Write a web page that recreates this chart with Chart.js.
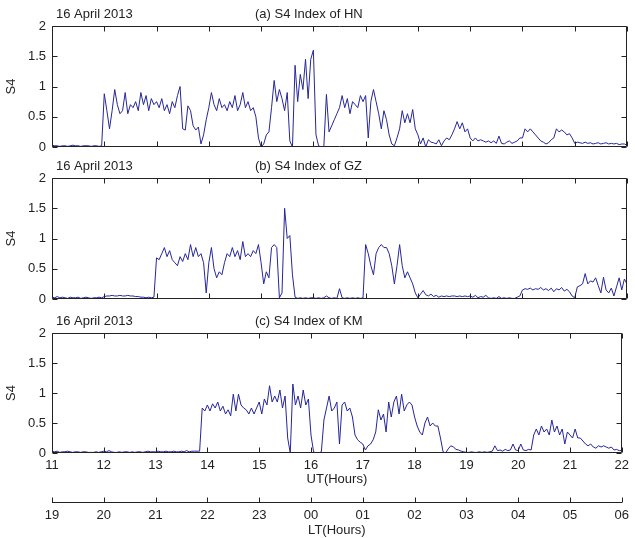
<!DOCTYPE html>
<html>
<head>
<meta charset="utf-8">
<script src="https://cdn.jsdelivr.net/npm/chart.js@4.4.1/dist/chart.umd.min.js"></script>
<style>
  body { margin: 0; background: #fff; }
  #wrap { position: relative; width: 635px; height: 538px; }
  canvas { position: absolute; left: 0; }
</style>
</head>
<body>
<div id="wrap">
  <canvas id="chartHN" width="635" height="155" style="top:0px"></canvas>
  <canvas id="chartGZ" width="635" height="155" style="top:152px"></canvas>
  <canvas id="chartKM" width="635" height="231" style="top:307px"></canvas>
</div>
<script>
// S4 values every 0.05 h (3 min), UT 11:00 to 22:00
const utStart = 11;
const utStep = 0.05;
const utTicks = [11, 12, 13, 14, 15, 16, 17, 18, 19, 20, 21, 22];
const ltLabels = ["19", "20", "21", "22", "23", "00", "01", "02", "03", "04", "05", "06"];
const s4Ticks = [0, 0.5, 1, 1.5, 2];

const hnS4 = [
  0.03,0.02,0.02,0.01,0.02,0.02,0.01,0.02,0.03,0.02,0.02,0.01,0.02,0.02,0.02,0.01,0.02,0.02,0.01,0.02,
  0.88,0.6,0.3,0.6,0.95,0.7,0.55,0.6,0.9,0.55,0.7,0.65,0.75,0.6,0.9,0.7,0.85,0.6,0.8,0.7,
  0.75,0.65,0.8,0.6,0.7,0.55,0.75,0.65,0.85,1.0,0.3,0.28,0.68,0.6,0.35,0.28,0.33,0.05,0.2,0.45,
  0.65,0.9,0.7,0.6,0.8,0.65,0.7,0.6,0.75,0.65,0.85,0.6,0.7,0.9,0.65,0.75,0.6,0.65,0.5,0.15,
  0.0,0.05,0.2,0.25,0.65,1.1,0.75,0.95,0.8,0.6,0.9,0.1,0.0,1.35,0.75,1.2,0.95,1.45,0.8,1.45,
  1.6,0.2,0.02,0.0,0.0,0.87,0.25,0.35,0.45,0.55,0.65,0.85,0.65,0.8,0.55,0.75,0.7,0.65,0.85,0.75,
  0.85,0.15,0.75,0.95,0.75,0.55,0.3,0.6,0.45,0.2,0.05,0.02,0.15,0.3,0.6,0.4,0.55,0.4,0.62,0.3,
  0.2,0.05,0.15,0.0,0.12,0.08,0.07,0.05,0.12,0.02,0.1,0.15,0.12,0.2,0.3,0.42,0.3,0.4,0.25,0.3,
  0.15,0.1,0.15,0.1,0.12,0.1,0.08,0.1,0.07,0.1,0.06,0.18,0.06,0.05,0.08,0.1,0.06,0.08,0.1,0.15,
  0.15,0.3,0.25,0.3,0.25,0.2,0.15,0.1,0.08,0.05,0.07,0.12,0.15,0.3,0.25,0.28,0.25,0.2,0.22,0.15,
  0.06,0.08,0.07,0.06,0.08,0.06,0.07,0.05,0.06,0.07,0.05,0.06,0.07,0.05,0.06,0.05,0.06,0.04,0.05,0.05,
  0.03
];
const gzS4 = [
  0.03,0.02,0.04,0.02,0.03,0.02,0.01,0.03,0.02,0.02,0.03,0.01,0.02,0.03,0.02,0.01,0.02,0.02,0.03,0.02,
  0.04,0.05,0.05,0.06,0.05,0.05,0.06,0.05,0.05,0.06,0.05,0.05,0.04,0.04,0.03,0.03,0.02,0.03,0.02,0.03,
  0.68,0.65,0.75,0.85,0.7,0.8,0.65,0.6,0.55,0.7,0.62,0.75,0.65,0.9,0.7,0.85,0.7,0.75,0.6,0.1,
  0.6,0.85,0.5,0.35,0.45,0.4,0.6,0.75,0.7,0.85,0.7,0.8,0.65,0.95,0.7,0.75,0.7,0.8,0.75,0.9,
  0.6,0.25,0.45,0.35,0.85,0.9,0.85,0.02,0.1,1.5,1.0,1.05,0.4,0.03,0.01,0.02,0.01,0.02,0.01,0.02,
  0.02,0.01,0.02,0.01,0.02,0.05,0.02,0.01,0.02,0.01,0.17,0.02,0.01,0.02,0.01,0.02,0.01,0.02,0.01,0.02,
  0.9,0.75,0.55,0.4,0.75,0.85,0.9,0.85,0.85,0.75,0.55,0.25,0.55,0.9,0.55,0.35,0.45,0.35,0.25,0.1,
  0.02,0.08,0.14,0.07,0.05,0.08,0.04,0.06,0.03,0.05,0.04,0.05,0.04,0.05,0.05,0.04,0.05,0.04,0.05,0.04,
  0.05,0.03,0.06,0.02,0.04,0.03,0.06,0.02,0.01,0.02,0.01,0.04,0.01,0.02,0.01,0.02,0.01,0.01,0.03,0.05,
  0.15,0.17,0.16,0.18,0.15,0.17,0.16,0.19,0.15,0.17,0.14,0.18,0.12,0.17,0.15,0.19,0.13,0.16,0.12,0.05,
  0.02,0.2,0.22,0.25,0.42,0.25,0.3,0.28,0.35,0.22,0.1,0.36,0.15,0.1,0.18,0.05,0.2,0.35,0.15,0.33,
  0.25
];
const kmS4 = [
  0.03,0.02,0.03,0.01,0.02,0.02,0.03,0.02,0.01,0.02,0.02,0.01,0.02,0.02,0.01,0.01,0.01,0.02,0.01,0.02,
  0.03,0.02,0.04,0.02,0.01,0.01,0.02,0.01,0.02,0.02,0.01,0.02,0.01,0.02,0.02,0.01,0.02,0.03,0.02,0.02,
  0.02,0.03,0.02,0.02,0.03,0.02,0.02,0.03,0.02,0.02,0.03,0.02,0.04,0.02,0.03,0.03,0.03,0.03,0.75,0.7,
  0.8,0.7,0.82,0.75,0.85,0.7,0.78,0.65,0.72,0.62,0.98,0.7,0.98,0.8,0.75,0.72,0.65,0.75,0.65,0.75,
  0.85,0.65,0.9,0.8,1.12,0.85,0.95,0.85,1.05,0.75,0.95,0.25,0.0,1.15,0.8,0.95,0.75,1.05,0.8,0.9,
  0.3,0.02,0.0,0.0,0.02,0.55,0.75,0.95,0.7,0.75,0.85,0.15,0.8,0.85,0.7,0.75,0.6,0.3,0.22,0.18,
  0.15,0.05,0.12,0.15,0.22,0.35,0.72,0.55,0.65,0.35,0.85,0.6,0.85,0.95,0.65,0.98,0.7,0.8,0.85,0.8,
  0.6,0.45,0.35,0.3,0.5,0.6,0.45,0.5,0.45,0.45,0.25,0.02,0.0,0.07,0.12,0.1,0.06,0.05,0.03,0.02,
  0.01,0.01,0.02,0.01,0.01,0.02,0.01,0.02,0.01,0.02,0.03,0.12,0.04,0.05,0.03,0.06,0.04,0.05,0.15,0.05,
  0.04,0.15,0.05,0.04,0.06,0.05,0.3,0.4,0.3,0.45,0.35,0.4,0.3,0.55,0.35,0.45,0.3,0.4,0.15,0.35,
  0.3,0.25,0.4,0.25,0.25,0.2,0.15,0.12,0.15,0.1,0.08,0.12,0.1,0.12,0.1,0.08,0.1,0.05,0.06,0.04,
  0.04
];

const lineColor = "#26269a";
const axisColor = "#222";
const fontFamily = "'Liberation Sans', Arial, Helvetica, sans-serif";
Chart.defaults.font.family = fontFamily;
Chart.defaults.font.size = 13;
Chart.defaults.color = axisColor;

function to_Points(values) {
  return values.map((v, i) => ({ x: +(utStart + i * utStep).toFixed(2), y: v }));
}

// box round the plot, inward ticks on all four sides, titles above
const frame_Plugin = {
  id: "frame",
  afterDraw(chart, args, opts) {
    const { ctx, chartArea: a } = chart;
    const xs = chart.scales.x;
    const ys = chart.scales.y;
    const L = Math.round(a.left) + 0.5, R = Math.round(a.right) - 0.5;
    const T = Math.round(a.top) + 0.5, B = Math.round(a.bottom) - 0.5;
    ctx.save();
    ctx.strokeStyle = axisColor;
    ctx.lineWidth = 1;
    ctx.beginPath();
    ctx.rect(L, T, R - L, B - T);
    utTicks.forEach((t) => {
      const px = Math.round(xs.getPixelForValue(t)) + 0.5;
      ctx.moveTo(px, B); ctx.lineTo(px, B - 5);
      ctx.moveTo(px, T); ctx.lineTo(px, T + 5);
    });
    s4Ticks.forEach((t) => {
      const py = Math.round(ys.getPixelForValue(t)) + 0.5;
      ctx.moveTo(L, py); ctx.lineTo(L + 5, py);
      ctx.moveTo(R, py); ctx.lineTo(R - 5, py);
    });
    const lt = chart.scales.lt;
    if (lt) {
      const top = Math.round(lt.top) + 0.5;
      utTicks.forEach((t) => {
        const px = Math.round(lt.getPixelForValue(t)) + 0.5;
        ctx.moveTo(px, top); ctx.lineTo(px, top - 5);
      });
    }
    ctx.stroke();
    ctx.fillStyle = axisColor;
    ctx.font = "13px " + fontFamily;
    ctx.textBaseline = "alphabetic";
    ctx.textAlign = "left";
    ctx.fillText(opts.date, 56, a.top - 8);
    ctx.fillText(opts.title, 255, a.top - 8);
    ctx.restore();
  },
};

function create_Panel(canvasId, values, panelTitle, withBottom) {
  const scales = {
    x: {
      type: "linear",
      min: 11,
      max: 22,
      weight: 0,
      grid: { display: false, drawTicks: false },
      border: { display: false },
      ticks: {
        display: withBottom,
        stepSize: 1,
        padding: 5,
        maxRotation: 0,
        autoSkip: false,
      },
      title: {
        display: withBottom,
        text: "UT(Hours)",
        padding: { top: 0, bottom: 15 },
      },
      afterFit: (s) => { s.height = withBottom ? 49 : 0; },
    },
    y: {
      min: 0,
      max: 2,
      grid: { display: false, drawTicks: false },
      border: { display: false },
      ticks: {
        stepSize: 0.5,
        padding: 6,
        callback: (v) => String(v),
      },
      title: { display: true, text: "S4", padding: { top: 4, bottom: 0 } },
      afterFit: (s) => {
        s.width = 52;
        s.paddingTop = 0;
        s.paddingBottom = 0;
      },
    },
  };
  if (withBottom) {
    scales.lt = {
      type: "linear",
      position: "bottom",
      min: 11,
      max: 22,
      weight: 1,
      grid: { display: false, drawTicks: false },
      border: { display: true, color: axisColor, width: 1 },
      ticks: {
        stepSize: 1,
        padding: 6,
        maxRotation: 0,
        autoSkip: false,
        callback: (v) => ltLabels[utTicks.indexOf(v)],
      },
      title: {
        display: true,
        text: "LT(Hours)",
        padding: { top: 0, bottom: 0 },
      },
      afterFit: (s) => { s.height = 36; },
    };
  }
  return new Chart(document.getElementById(canvasId), {
    type: "line",
    data: {
      datasets: [
        {
          label: panelTitle,
          data: to_Points(values),
          borderColor: lineColor,
          borderWidth: 1,
          pointRadius: 0,
          tension: 0,
          fill: false,
        },
      ],
    },
    options: {
      responsive: false,
      animation: false,
      devicePixelRatio: 1,
      layout: { padding: { left: 0, right: 8, top: 26, bottom: withBottom ? 0 : 8 } },
      plugins: {
        legend: { display: false },
        tooltip: { enabled: false },
        frame: { date: "16 April 2013", title: panelTitle },
      },
      scales,
    },
    plugins: [frame_Plugin],
  });
}

create_Panel("chartHN", hnS4, "(a) S4 Index of HN", false);
create_Panel("chartGZ", gzS4, "(b) S4 Index of GZ", false);
create_Panel("chartKM", kmS4, "(c) S4 Index of KM", true);
</script>
</body>
</html>
